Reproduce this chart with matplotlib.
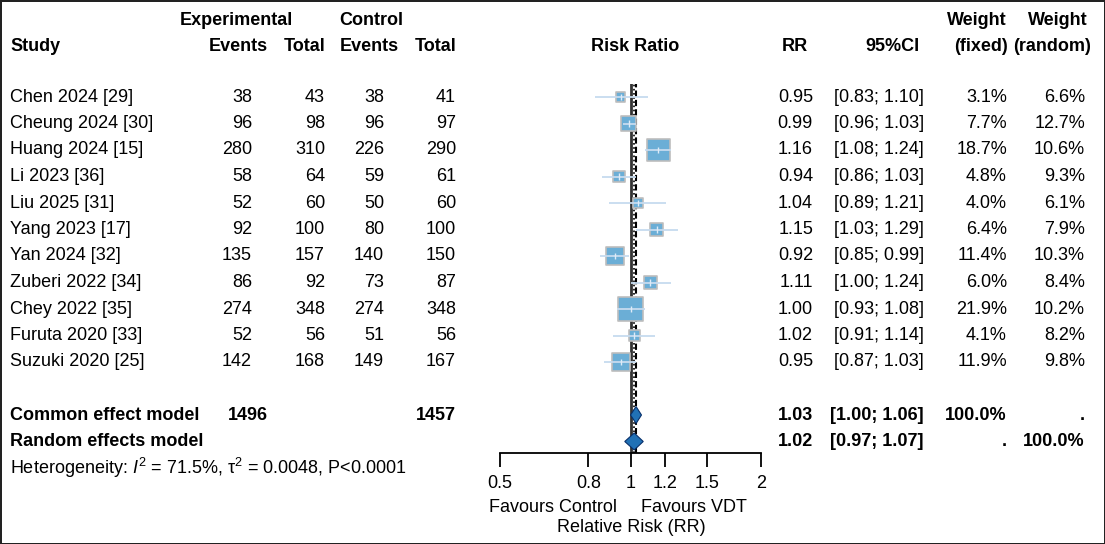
import matplotlib
matplotlib.use("Agg")
import matplotlib.pyplot as plt
import matplotlib.transforms as mtransforms
import numpy as np

plt.rcParams['font.family'] = ['Liberation Sans', 'DejaVu Sans']
plt.rcParams['mathtext.fontset'] = 'custom'
plt.rcParams['mathtext.rm'] = 'Liberation Sans'
plt.rcParams['mathtext.it'] = 'Liberation Sans:italic'

# study data
studies = ["Chen 2024 [29]", "Cheung 2024 [30]", "Huang 2024 [15]", "Li 2023 [36]",
           "Liu 2025 [31]", "Yang 2023 [17]", "Yan 2024 [32]", "Zuberi 2022 [34]",
           "Chey 2022 [35]", "Furuta 2020 [33]", "Suzuki 2020 [25]"]
exp_events = [38, 96, 280, 58, 52, 92, 135, 86, 274, 52, 142]
exp_total = [43, 98, 310, 64, 60, 100, 157, 92, 348, 56, 168]
ctrl_events = [38, 96, 226, 59, 50, 80, 140, 73, 274, 51, 149]
ctrl_total = [41, 97, 290, 61, 60, 100, 150, 87, 348, 56, 167]
rr = [0.95, 0.99, 1.16, 0.94, 1.04, 1.15, 0.92, 1.11, 1.00, 1.02, 0.95]
ci_lo = [0.83, 0.96, 1.08, 0.86, 0.89, 1.03, 0.85, 1.00, 0.93, 0.91, 0.87]
ci_hi = [1.10, 1.03, 1.24, 1.03, 1.21, 1.29, 0.99, 1.24, 1.08, 1.14, 1.03]
w_fixed = [3.1, 7.7, 18.7, 4.8, 4.0, 6.4, 11.4, 6.0, 21.9, 4.1, 11.9]
w_random = [6.6, 12.7, 10.6, 9.3, 6.1, 7.9, 10.3, 8.4, 10.2, 8.2, 9.8]

# pooled results
common = (1.03, 1.00, 1.06)
random_eff = (1.02, 0.97, 1.07)
exp_sum = 1496
ctrl_sum = 1457
het_text = r"Heterogeneity: $I^{2}$ = 71.5%, τ$^{2}$ = 0.0048, P<0.0001"
ticks = [0.5, 0.8, 1, 1.2, 1.5, 2]

W, H = 1105, 544
fig = plt.figure(figsize=(W / 100, H / 100), dpi=100)
fig.patch.set_edgecolor("#222222")
fig.patch.set_linewidth(2)

fs = 13

# forest panel: rows spaced 26.5 px, first row at y=97 px
top_r, bot_r = -0.5, 13.43
y_top = 97 + 26.5 * top_r
y_bot = 97 + 26.5 * bot_r
ax = fig.add_axes([500 / W, (H - y_bot) / H, 261 / W, (y_bot - y_top) / H])
ax.set_xscale("log")
ax.set_xlim(0.5, 2)
ax.set_ylim(bot_r, top_r)
for s in ["top", "right", "left"]:
    ax.spines[s].set_visible(False)
ax.spines["bottom"].set_linewidth(1.3)
ax.set_yticks([])
ax.set_xticks(ticks)
ax.set_xticklabels([f"{t:g}" for t in ticks], fontsize=fs)
ax.xaxis.set_minor_locator(matplotlib.ticker.NullLocator())
ax.tick_params(axis="x", length=10, width=1.3, pad=6)
ax.patch.set_alpha(0)

rows = np.arange(len(studies))
ax.axvline(1, color="#333333", lw=2, zorder=1)
ax.axvline(common[0], color="black", lw=1.5, ls=(0, (3, 1.5)), zorder=1)
ax.axvline(random_eff[0], color="black", lw=1.2, ls=(0, (1, 1.5)), zorder=1)

# squares sized by fixed weight
sizes = [(3.8 * np.sqrt(w)) ** 2 for w in w_fixed]
ax.scatter(rr, rows, s=sizes, marker="s", color="#6baed6", edgecolor="#bdbdbd",
           linewidth=1.2, zorder=3)
ax.hlines(rows, ci_lo, ci_hi, color="#c6dbef", lw=1.3, zorder=4)
ax.vlines(rr, rows - 0.12, rows + 0.12, color="#deebf7", lw=1, zorder=4)

# diamonds
for r, (est, lo, hi) in zip([12, 13], [common, random_eff]):
    ax.fill([lo, est, hi, est], [r, r - 0.32, r, r + 0.32], facecolor="#2171b5",
            edgecolor="#08306b", lw=0.8, zorder=5)

tr = mtransforms.blended_transform_factory(fig.transFigure, ax.transData)


def put(xpx, r, s, ha="right", bold=False):
    fig.text(xpx / W, r, s, transform=tr, ha=ha, va="center", fontsize=fs,
             fontweight="bold" if bold else "normal")


# headers
hr1, hr2 = -2.9, -1.9
put(236, hr1, "Experimental", ha="center", bold=True)
put(371, hr1, "Control", ha="center", bold=True)
put(10, hr2, "Study", ha="left", bold=True)
put(268, hr2, "Events", bold=True)
put(325, hr2, "Total", bold=True)
put(399, hr2, "Events", bold=True)
put(457, hr2, "Total", bold=True)
put(635, hr2, "Risk Ratio", ha="center", bold=True)
put(808, hr2, "RR", bold=True)
put(919, hr2, "95%CI", bold=True)
put(1007, hr1, "Weight", bold=True)
put(1008, hr2, "(fixed)", bold=True)
put(1088, hr1, "Weight", bold=True)
put(1091, hr2, "(random)", bold=True)

for i in rows:
    put(10, i, studies[i], ha="left")
    put(252, i, str(exp_events[i]))
    put(325, i, str(exp_total[i]))
    put(384, i, str(ctrl_events[i]))
    put(456, i, str(ctrl_total[i]))
    put(813, i, f"{rr[i]:.2f}")
    put(924, i, f"[{ci_lo[i]:.2f}; {ci_hi[i]:.2f}]")
    put(1007, i, f"{w_fixed[i]:.1f}%")
    put(1085, i, f"{w_random[i]:.1f}%")

put(10, 12, "Common effect model", ha="left", bold=True)
put(10, 13, "Random effects model", ha="left", bold=True)
put(268, 12, str(exp_sum), bold=True)
put(456, 12, str(ctrl_sum), bold=True)
for r, (est, lo, hi) in zip([12, 13], [common, random_eff]):
    put(813, r, f"{est:.2f}", bold=True)
    put(924, r, f"[{lo:.2f}; {hi:.2f}]", bold=True)
put(1007, 12, "100.0%", bold=True)
put(1085, 12, ".", bold=True)
put(1007, 13, ".", bold=True)
put(1085, 13, "100.0%", bold=True)
put(10, 14, het_text, ha="left")

fig.text(617 / W, 1 - 508 / H, "Favours Control", ha="right", va="center", fontsize=fs)
fig.text(641 / W, 1 - 508 / H, "Favours VDT", ha="left", va="center", fontsize=fs)
fig.text(631 / W, 1 - 527 / H, "Relative Risk (RR)", ha="center", va="center", fontsize=fs)

fig.savefig("out.png", dpi=100)
